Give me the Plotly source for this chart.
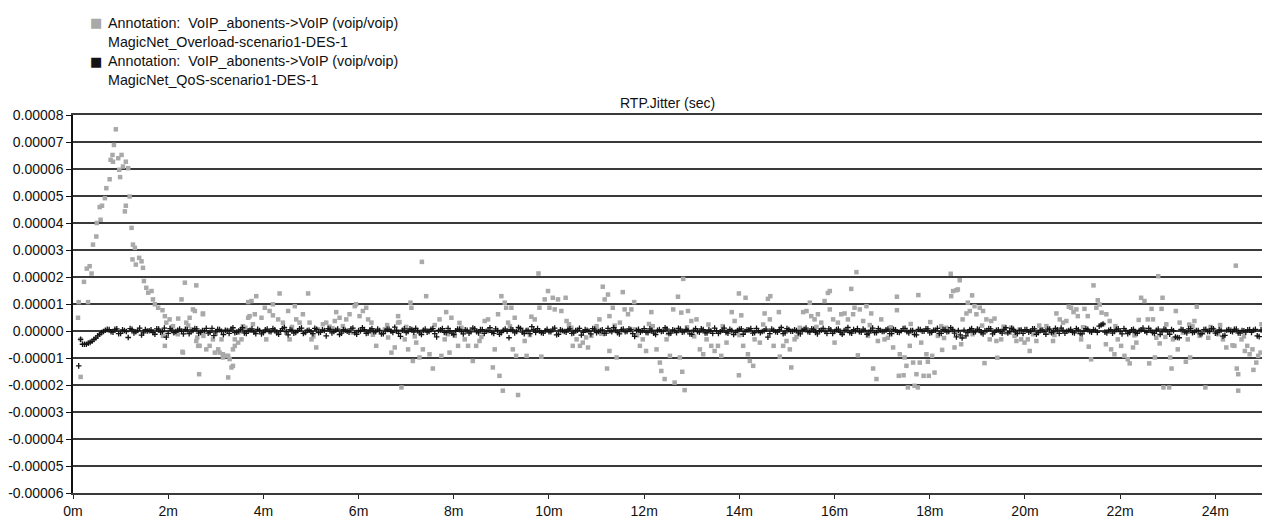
import plotly.graph_objects as go

# ---------------- data (time in minutes, jitter in microseconds) ----------------
overload_t = [
    0.105, 0.12, 0.16, 0.16, 0.23, 0.29, 0.315, 0.35, 0.39, 0.42,
    0.49, 0.50, 0.56, 0.58, 0.61, 0.67, 0.70, 0.77, 0.79, 0.83,
    0.84, 0.86, 0.90, 0.95, 0.97, 0.99, 1.02, 1.05, 1.09, 1.11,
    1.11, 1.16, 1.19, 1.23, 1.25, 1.26, 1.30, 1.32, 1.39, 1.44,
    1.47, 1.49, 1.54, 1.58, 1.65, 1.68, 1.72, 1.79, 1.88, 1.89,
    1.93, 1.93, 1.96, 2.03, 2.07, 2.10, 2.14, 2.21, 2.28, 2.30,
    2.31, 2.35, 2.38, 2.45, 2.49, 2.52, 2.56, 2.59, 2.59, 2.61,
    2.63, 2.65, 2.66, 2.73, 2.73, 2.74, 2.80, 2.87, 2.94, 2.98,
    3.05, 3.08, 3.12, 3.15, 3.15, 3.22, 3.26, 3.26, 3.29, 3.33,
    3.36, 3.36, 3.40, 3.40, 3.47, 3.47, 3.50, 3.54, 3.57, 3.62,
    3.68, 3.68, 3.71, 3.75, 3.78, 3.82, 3.85, 3.96, 4.03, 4.06,
    4.13, 4.20, 4.20, 4.31, 4.34, 4.41, 4.48, 4.52, 4.55, 4.66,
    4.69, 4.76, 4.83, 4.87, 4.94, 4.97, 5.01, 5.11, 5.15, 5.25,
    5.32, 5.39, 5.50, 5.53, 5.60, 5.67, 5.74, 5.81, 5.88, 5.92,
    5.95, 6.02, 6.09, 6.16, 6.20, 6.27, 6.37, 6.48, 6.55, 6.62,
    6.69, 6.76, 6.83, 6.83, 6.86, 6.90, 6.97, 7.04, 7.09, 7.11,
    7.14, 7.21, 7.28, 7.33, 7.35, 7.42, 7.49, 7.56, 7.70, 7.74,
    7.81, 7.84, 7.91, 7.95, 8.02, 8.09, 8.16, 8.23, 8.30, 8.37,
    8.40, 8.47, 8.54, 8.65, 8.72, 8.82, 8.86, 8.93, 8.96, 9.00,
    9.03, 9.07, 9.10, 9.14, 9.21, 9.24, 9.28, 9.31, 9.35, 9.42,
    9.49, 9.53, 9.63, 9.70, 9.78, 9.80, 9.84, 9.91, 9.98, 10.01,
    10.08, 10.12, 10.19, 10.26, 10.35, 10.37, 10.47, 10.50, 10.58, 10.65,
    10.71, 10.82, 10.89, 11.00, 11.06, 11.13, 11.17, 11.22, 11.24, 11.27,
    11.27, 11.34, 11.42, 11.49, 11.55, 11.59, 11.66, 11.73, 11.79, 11.80,
    11.91, 11.97, 12.04, 12.15, 12.18, 12.26, 12.33, 12.36, 12.43, 12.47,
    12.54, 12.61, 12.64, 12.71, 12.75, 12.78, 12.80, 12.82, 12.85, 12.92,
    12.99, 13.10, 13.17, 13.24, 13.31, 13.41, 13.48, 13.55, 13.62, 13.73,
    13.84, 13.90, 13.99, 13.99, 14.04, 14.08, 14.13, 14.18, 14.22, 14.29,
    14.32, 14.43, 14.53, 14.60, 14.64, 14.65, 14.72, 14.83, 14.85, 14.92,
    14.99, 15.06, 15.09, 15.16, 15.27, 15.34, 15.41, 15.48, 15.51, 15.58,
    15.65, 15.72, 15.79, 15.86, 15.90, 15.90, 15.97, 16.00, 16.07, 16.14,
    16.21, 16.28, 16.35, 16.39, 16.42, 16.46, 16.49, 16.53, 16.60, 16.67,
    16.70, 16.77, 16.81, 16.88, 16.91, 16.98, 17.05, 17.12, 17.23, 17.31,
    17.31, 17.35, 17.37, 17.45, 17.47, 17.51, 17.54, 17.58, 17.65, 17.68,
    17.72, 17.75, 17.76, 17.79, 17.82, 17.87, 17.93, 17.96, 17.98, 18.01,
    18.05, 18.10, 18.17, 18.24, 18.26, 18.35, 18.44, 18.45, 18.49, 18.52,
    18.56, 18.59, 18.63, 18.66, 18.69, 18.77, 18.80, 18.84, 18.89, 18.94,
    18.98, 19.05, 19.12, 19.15, 19.19, 19.26, 19.29, 19.36, 19.40, 19.42,
    19.50, 19.61, 19.68, 19.71, 19.82, 19.89, 19.92, 19.99, 20.06, 20.10,
    20.17, 20.24, 20.35, 20.45, 20.52, 20.59, 20.66, 20.73, 20.80, 20.87,
    20.92, 20.97, 21.02, 21.08, 21.11, 21.18, 21.25, 21.32, 21.34, 21.39,
    21.44, 21.50, 21.53, 21.57, 21.61, 21.64, 21.70, 21.71, 21.78, 21.81,
    21.88, 21.95, 22.02, 22.09, 22.16, 22.20, 22.27, 22.34, 22.39, 22.44,
    22.51, 22.58, 22.61, 22.66, 22.69, 22.73, 22.76, 22.80, 22.83, 22.87,
    22.89, 22.91, 22.97, 23.03, 23.05, 23.08, 23.11, 23.17, 23.21, 23.25,
    23.32, 23.38, 23.42, 23.47, 23.52, 23.56, 23.61, 23.67, 23.74, 23.79,
    23.85, 23.95, 24.06, 24.16, 24.23, 24.30, 24.36, 24.40, 24.43, 24.45,
    24.48, 24.48, 24.55, 24.62, 24.67, 24.72, 24.78, 24.80, 24.86, 24.90,
    24.95, 24.97,
    7.00, 7.18, 7.60, 7.88, 8.12, 8.58, 9.18, 9.60, 10.42, 10.78,
    11.10, 11.38, 11.85, 12.10, 12.50, 12.90, 13.05, 13.35, 13.65, 14.00,
    14.50, 15.20, 15.62, 16.17, 16.74, 17.18, 17.60, 18.30, 18.90, 19.10,
    19.55, 19.78, 20.30, 20.62, 21.22, 21.90, 22.30, 22.95, 23.45, 23.90,
    24.10, 24.60, 2.20, 2.42, 4.60, 5.05, 5.45, 6.30, 6.60, 3.00,
]
overload_us = [
    4.9, 10.7, -3.1, -17.0, 18.2, 23.1, 10.7, 24.0, 21.3, 32.0,
    35.0, 40.0, 45.9, 41.2, 46.4, 49.2, 52.9, 56.2, 63.4, 65.2,
    62.7, 68.9, 74.7, 64.0, 59.7, 57.0, 65.2, 60.9, 44.3, 62.7,
    46.4, 60.3, 49.8, 38.2, 26.5, 32.0, 30.8, 24.6, 27.1, 25.8,
    23.4, 18.5, 16.0, 14.2, 14.8, 11.7, 9.9, 8.6, 7.7, -1.8,
    5.5, -5.5, 3.1, 4.3, 1.3, 1.8, -0.6, 4.6, 11.7, -7.7,
    -8.0, 17.9, 3.1, 4.9, 0.6, 8.0, 7.4, 16.9, -3.7, -2.4,
    -5.5, -16.0, -5.5, 6.2, 6.5, -1.8, -6.8, -5.5, -3.1, -8.0,
    -6.8, -8.0, -3.1, -9.8, -8.6, -9.2, -17.2, -9.2, -10.4, -13.5,
    -6.8, -12.9, -3.1, -5.5, -0.6, -4.3, 0.0, -3.1, 1.8, 1.2,
    10.7, 4.9, 5.5, 11.1, 2.5, 6.2, 12.9, 4.9, 8.6, -3.1,
    7.4, 9.9, 5.8, 4.3, 13.9, 3.1, -0.6, 7.4, -3.1, 9.2,
    4.3, 3.1, 6.2, -0.6, 13.9, 3.1, -3.1, -6.1, 0.6, 2.5,
    3.1, 1.6, 3.7, 7.0, 4.9, 1.8, 4.3, 6.2, -0.6, 9.2,
    9.9, 5.5, 7.4, 8.6, 4.3, 3.1, -5.5, -0.6, 0.6, -2.4,
    -8.0, -6.1, 5.5, 3.1, 3.3, -20.9, -3.1, -6.8, 10.5, 8.6,
    -11.1, -4.3, -9.8, 25.6, -6.8, 12.9, -8.6, -13.9, 4.3, -9.2,
    -3.1, 7.0, -8.0, 4.9, -1.8, -5.5, 1.2, -3.1, -5.5, 0.6,
    -11.1, -5.5, -3.7, 3.7, 4.3, -13.5, -6.8, 6.2, -16.6, 12.9,
    -22.1, 10.5, 8.6, 3.1, 8.6, -6.8, 4.9, -9.2, -23.7, 0.6,
    -3.7, -9.2, 5.3, 4.3, 21.3, 8.6, -9.5, 11.7, 14.8, 8.6,
    12.3, 8.0, 11.7, 7.4, 12.3, 3.7, 1.2, -5.5, -3.1, -5.5,
    -4.3, -6.1, -1.8, 1.8, 4.3, 16.4, 11.7, -13.9, 13.5, 5.5,
    -7.4, 8.6, -9.8, 3.1, 14.4, 8.0, 6.2, 8.0, 10.7, 0.6,
    -5.5, -3.1, -7.4, 7.0, 1.8, -6.8, -11.7, -14.8, -17.8, -3.1,
    -9.2, 8.0, -19.1, 12.7, -9.8, 6.8, -15.1, 19.3, -21.9, 7.4,
    3.7, 4.3, -6.8, -8.6, -3.1, -5.5, -7.4, -5.5, -9.2, -4.3,
    7.0, 3.7, 13.9, -16.4, 5.8, -5.5, 12.3, -8.6, -11.1, -12.9,
    -3.1, -4.3, 6.5, 11.9, 4.3, 12.9, -5.5, 7.0, -9.5, -5.5,
    -3.7, -6.8, -13.5, -3.1, 1.2, 7.0, 7.4, 10.5, 5.5, 4.3,
    6.2, 3.1, 11.1, 14.1, 14.8, 8.0, 4.3, -4.3, 3.1, 6.2,
    6.5, 4.3, 15.6, 6.2, 8.6, 21.8, -9.0, 8.0, 3.7, 9.2,
    -1.8, 6.5, -13.9, -17.8, -3.7, 4.3, -3.1, -2.5, -6.1, 12.7,
    7.7, -16.6, -8.6, -16.4, -9.8, -12.9, -20.9, -5.5, -11.7, -20.3,
    -16.0, -20.9, 13.3, -11.7, -4.3, -16.6, -8.6, -11.4, -16.6, 3.3,
    -9.2, -15.4, -1.8, 1.8, -7.0, 1.2, 21.2, 12.9, 14.8, -6.1,
    15.1, 15.4, 18.8, -4.9, 4.3, 6.5, 10.5, 7.4, 13.2, 9.2,
    6.2, 8.6, 7.4, -11.9, 4.3, -3.1, 3.7, 4.6, -3.7, -9.9,
    -3.1, -0.6, -0.6, 1.2, -3.7, 0.6, -3.1, -4.3, -3.1, -7.4,
    -1.2, -3.7, 0.6, 1.8, -0.6, -3.7, 6.5, 4.3, 3.1, 3.7,
    9.0, 8.6, 7.0, 8.0, 5.5, -3.1, 8.2, 5.5, -5.8, -10.5,
    16.9, 8.6, 11.4, 9.8, 6.8, 2.5, -4.9, 6.2, 3.7, -6.8,
    -8.6, -3.1, -5.5, -9.2, -10.5, -12.0, -6.1, -4.3, 4.1, 12.3,
    11.1, 4.3, -12.0, 8.2, 4.3, -9.8, -2.5, 20.3, -4.6, 8.2,
    12.3, -20.9, 2.5, -20.9, -9.8, -13.9, -3.1, 7.4, -6.8, 3.1,
    -0.6, -11.4, -3.1, -9.8, 1.8, 3.7, 9.0, -1.8, -0.6, -20.9,
    -2.5, 0.6, -1.2, -3.1, -6.1, 0.6, -5.3, -5.5, 24.2, -13.9,
    -16.0, -22.1, -3.1, -7.4, -5.5, -8.6, -6.8, -14.4, -11.7, -9.2,
    -8.0, 2.5,
    1.5, -2.0, 2.2, -1.2, 3.0, -2.2, 1.8, -1.5, 2.5, -2.4,
    -1.0, 2.0, -1.6, 2.6, -0.8, 1.4, -2.0, 2.4, 1.8, -1.5,
    2.4, -2.2, 1.5, -1.0, 2.2, 1.4, 2.6, -2.6, -1.2, 2.0,
    1.6, -1.8, 2.0, -1.5, 1.4, 1.8, -1.6, -2.2, 2.4, 1.5,
    2.2, -2.0, -1.2, 2.0, 1.5, -2.0, 1.0, -1.4, 2.2, -1.0,
]

# QoS scenario: samples every 0.08 min; series A starts at 0.12 min, series B at 0.16 min
qos_a_start = 0.12
qos_b_start = 0.16
qos_step_min = 0.08
qos_a_us = [
    -12.9, -4.9, -4.9, -4.2, -3.1, -1.8, -0.6, 0.3,
    0.5, -0.4, 0.8, -0.9, 0.2, -2.4, 0.6, -0.3, 1.1, -0.7, 0.0, 0.4, -1.2, 0.7, -0.2, -2.3, 0.9, -0.6, 0.3, -0.1,
    0.6, -1.0, 0.2, 0.8, -0.5, 0.1, -0.8, 1.0, -0.3, 0.5, -1.3, 0.2, 0.7, -0.6, 0.0, 1.2, -0.9, 0.3, -0.4, 0.6,
    -1.1, 0.4, -0.2, 0.9, -0.7, 0.1, 1.3, -1.4, 0.3, -0.5, 0.8, -0.9, 0.2, -0.3, 1.0, -0.6, 0.4, -1.8, 0.6, -0.2,
    0.7, -0.8, 0.3, -0.4, 1.1, -1.2, 0.0, 0.5, -0.7, 0.9, -0.3, 0.2, -1.0, 0.6, -0.1, 1.4, -0.9, 0.3, -0.6, 0.8,
    -0.4, 0.2, -1.3, 0.7, -0.2, 0.9, -2.2, 0.4, -0.5, 1.0, -0.8, 0.1, 0.6, -1.1, 0.3, -0.3, 0.8, -0.7, 0.5, -0.1,
    1.2, -0.9, 0.2, -0.6, 0.7, -2.5, 0.4, -0.2, 0.9, -1.0, 0.3, 1.6, -0.5, 0.0, -0.8, 0.6, -0.3, 1.1, -1.2, 0.2,
    -0.4, 0.8, -0.7, 0.3, -1.5, 0.5, -0.1, 0.9, -0.6, 0.2, -0.9, 1.0, -0.3, 0.4, -1.1, 0.7, -0.2, 0.5, -2.0, 0.6,
    0.1, -0.5, 0.8, -0.8, 0.3, -0.2, 1.2, -1.0, 0.4, -0.6, 0.7, -0.3, 0.2, -1.2, 0.9, -0.4, 0.5, -0.7, 0.0, 1.1,
    -0.9, 0.3, -0.5, 0.6, -1.3, 0.2, 0.8, -0.2, 0.4, -0.8, 1.0, -0.6, 0.1, -2.3, 0.7, -0.3, 0.5, -1.0, 0.9, -0.1,
    0.4, -0.7, 0.2, 1.1, -0.4, 0.6, -1.1, 0.3, -0.2, 0.8, -0.9, 0.5, -0.5, 0.2, 1.3, -0.8, 0.0, -0.3, 0.7, -1.2,
    0.3, -0.6, 0.9, -0.2, 0.4, -1.0, 0.6, -0.4, 0.1, 1.0, -0.7, 0.2, -1.4, 0.5, -0.1, 0.8, -0.5, 0.3, -0.9, 0.6,
    -0.3, 1.2, -0.8, 0.2, -2.6, -1.8, 0.5, -0.4, 0.7, -0.6, 0.1, 0.9, -1.1, 0.3, -0.2, 0.6, -0.7, 1.0, -0.4, 0.2,
    -0.9, 0.5, -0.1, 0.8, -0.6, 0.3, -1.2, 0.7, -0.3, 0.4, 1.1, -0.8, 0.2, -0.5, 0.9, -1.0, 0.0, 0.6, -0.4, 0.3,
    1.8, 2.6, -0.7, 0.5, -0.2, 0.8, -1.1, 0.2, -0.5, 0.6, -0.9, 0.4, -0.1, 1.0, -0.6, 0.3, -1.3, 0.7, -0.3, 0.5,
    -2.2, -2.5, 0.4, -0.7, 0.9, -0.4, 0.2, -1.0, 0.6, -0.2, 0.8, -0.6, 0.3, -1.6, 0.5, -0.3, 0.7, -0.8, 0.1, 0.4,
    -0.5, 0.6, -2.1, 0.3,
]
qos_b_us = [
    -3.1, -4.9, -4.5, -3.8, -2.6, -1.2, -0.2, 0.6,
    -0.3, 0.6, -1.0, 0.4, -0.2, 0.9, -0.7, 0.2, -1.5, 0.5, 0.1, -0.6, 0.8, -0.4, 1.1, -0.9, 0.3, -0.2, 0.7, -1.1,
    0.4, -0.3, 0.9, -0.8, 0.2, 1.0, -0.5, -1.7, 0.6, -0.1, 0.3, -0.9, 1.2, -0.4, 0.5, -0.7, 0.1, 0.8, -1.0, 0.2,
    -0.6, 0.7, -0.3, 0.4, -1.2, 0.9, -0.2, 0.5, -0.8, 0.1, 1.1, -0.5, 0.3, -1.0, 0.6, -0.4, 0.2, 0.9, -0.7, 0.3,
    -1.3, 0.5, -0.1, 0.8, -0.6, 0.2, 1.2, -0.9, 0.4, -0.3, 0.7, -1.1, 0.0, 0.6, -0.5, 0.3, -2.0, 0.8, -0.2, 0.5,
    1.0, -0.7, 0.3, -0.4, 0.6, -1.0, 0.2, 0.9, -0.6, 0.1, -1.3, 0.7, -0.2, 0.4, -0.8, 1.1, -0.3, 0.5, -0.9, 0.2,
    -0.5, 0.8, -1.2, 0.3, -0.1, 0.6, -0.7, 1.3, -0.4, 0.2, -1.0, 0.5, 0.9, -0.6, 0.1, -0.3, 0.7, -1.4, 0.4, -0.2,
    0.6, -0.9, 0.2, 1.0, -0.5, 0.3, -1.1, 0.7, -0.2, 0.4, -0.8, 0.1, 1.2, -0.6, 0.5, -0.3, 0.8, -1.0, 0.2, -0.4,
    0.9, -0.6, 0.3, -1.3, 0.5, -0.1, 0.7, -0.8, 0.2, 1.0, -0.4, 0.6, -1.1, 0.3, -0.2, 0.8, -0.7, 0.4, -0.9, 0.1,
    -0.3, 1.1, -0.8, 0.2, -0.5, 0.6, -1.2, 0.4, 0.9, -0.6, 0.1, -0.2, 0.7, -1.0, 0.3, -0.4, 1.3, -0.7, 0.5, -0.1,
    0.2, -1.1, 0.6, -0.3, 0.8, -0.5, 0.1, 1.0, -0.9, 0.4, -0.2, 0.7, -1.2, 0.3, -0.6, 0.5, 0.9, -0.4, 0.2, -0.8,
    1.1, -0.6, 0.3, -0.2, 0.7, -1.0, 0.4, -0.5, 0.9, -0.3, 0.2, -1.3, 0.6, -0.1, 0.8, -0.7, 0.3, 1.0, -0.9, 0.4,
    -0.2, 0.6, -2.2, -1.4, 0.3, -0.6, 0.9, -0.3, 0.5, -1.1, 0.2, 0.8, -0.5, 0.4, -0.8, 1.2, -0.2, 0.6, -1.0, 0.3,
    0.5, -0.4, 0.8, -1.2, 0.2, -0.3, 0.7, -0.6, 1.0, -0.9, 0.3, -0.1, 0.6, -0.7, 0.4, -1.1, 0.9, -0.2, 0.5, -0.5,
    2.2, -0.4, 0.3, -0.8, 0.6, -0.2, 0.9, -1.0, 0.4, -0.6, 0.2, 1.1, -0.5, 0.3, -0.9, 0.7, -0.3, 0.5, -1.2, 0.1,
    -2.4, 0.6, -0.3, 0.8, -0.6, 0.2, -1.1, 0.5, -0.2, 0.9, -0.8, 0.4, -1.9, 0.3, -0.1, 0.6, -0.7, 0.2, -0.4, 0.5,
    0.3, -1.8, 0.4, -0.6,
]

y_tick_vals = [8e-5, 7e-5, 6e-5, 5e-5, 4e-5, 3e-5, 2e-5, 1e-5, 0.0,
               -1e-5, -2e-5, -3e-5, -4e-5, -5e-5, -6e-5]
y_tick_text = ["0.00008", "0.00007", "0.00006", "0.00005", "0.00004", "0.00003",
               "0.00002", "0.00001", "0.00000", "-0.00001", "-0.00002",
               "-0.00003", "-0.00004", "-0.00005", "-0.00006"]
x_tick_vals = [0, 2, 4, 6, 8, 10, 12, 14, 16, 18, 20, 22, 24]
x_tick_text = ["0m", "2m", "4m", "6m", "8m", "10m", "12m", "14m", "16m",
               "18m", "20m", "22m", "24m"]

legend_line1 = "Annotation:  VoIP_abonents->VoIP (voip/voip)"
overload_name = "MagicNet_Overload-scenario1-DES-1"
qos_name = "MagicNet_QoS-scenario1-DES-1"
chart_title = "RTP.Jitter (sec)"

# ---------------- build ----------------
n = min(len(overload_t), len(overload_us))
ov_x = overload_t[:n]
ov_y = [v * 1e-6 for v in overload_us[:n]]
qos_x = ([qos_a_start + i * qos_step_min for i in range(len(qos_a_us))]
         + [qos_b_start + i * qos_step_min for i in range(len(qos_b_us))])
qos_y = [v * 1e-6 for v in qos_a_us + qos_b_us]

FONT = "Liberation Sans, Arial, sans-serif"
GRAY = "#a9a9a9"
DARK = "#141414"

fig = go.Figure()
fig.add_trace(go.Scatter(
    x=ov_x, y=ov_y, mode="markers", name=overload_name,
    marker=dict(symbol="square", size=4.5, color=GRAY, line=dict(width=0)),
))
fig.add_trace(go.Scatter(
    x=qos_x, y=qos_y, mode="markers", name=qos_name,
    marker=dict(symbol="cross-thin", size=4, color=DARK,
                line=dict(width=1.3, color=DARK)),
))

PW = 1264 - 73 - 2
PH = 521 - 115 - 25


def px_x(px):
    return (px - 73) / PW


def px_y(py):
    return (496 - py) / PH


ann = []
legend_rows = [
    (22, legend_line1, GRAY),
    (41, overload_name, None),
    (61, legend_line1, DARK),
    (80, qos_name, None),
]
for py, txt, sq in legend_rows:
    ann.append(dict(x=px_x(106), y=px_y(py), xref="paper", yref="paper",
                    xanchor="left", yanchor="middle", text=txt, showarrow=False,
                    font=dict(family=FONT, size=14.3, color="#111111")))
    if sq:
        ann.append(dict(x=px_x(95.5), y=px_y(py), xref="paper", yref="paper",
                        xanchor="center", yanchor="middle", text="■", showarrow=False,
                        font=dict(family="DejaVu Sans", size=13, color=sq)))
ann.append(dict(x=0.5, y=px_y(103), xref="paper", yref="paper",
                xanchor="center", yanchor="middle", text=chart_title,
                showarrow=False, font=dict(family=FONT, size=14, color="#111111")))

fig.update_layout(
    width=1264, height=521,
    margin=dict(l=73, r=2, t=115, b=25),
    paper_bgcolor="white", plot_bgcolor="white",
    showlegend=False,
    font=dict(family=FONT, size=14, color="#111111"),
    annotations=ann,
    xaxis=dict(range=[0, 24.98], tickvals=x_tick_vals, ticktext=x_tick_text,
               showgrid=False, zeroline=False, ticks="outside", ticklen=4,
               tickcolor="#222222", tickwidth=1.3,
               showline=True, mirror=True, linecolor="#3a3a3a", linewidth=1.5,
               tickfont=dict(family=FONT, size=14, color="#111111")),
    yaxis=dict(range=[-6e-5, 8e-5], tickvals=y_tick_vals, ticktext=y_tick_text,
               showgrid=True, gridcolor="#3a3a3a", gridwidth=1.5,
               zeroline=False, ticks="outside", ticklen=5, tickcolor="#111111",
               tickwidth=1.3, showline=True, linecolor="#111111", linewidth=1.5,
               tickfont=dict(family=FONT, size=14, color="#111111")),
)

fig.write_html("out.html",
               config={"displayModeBar": False},
               post_script="document.body.style.margin='0';document.body.style.overflow='hidden';")
